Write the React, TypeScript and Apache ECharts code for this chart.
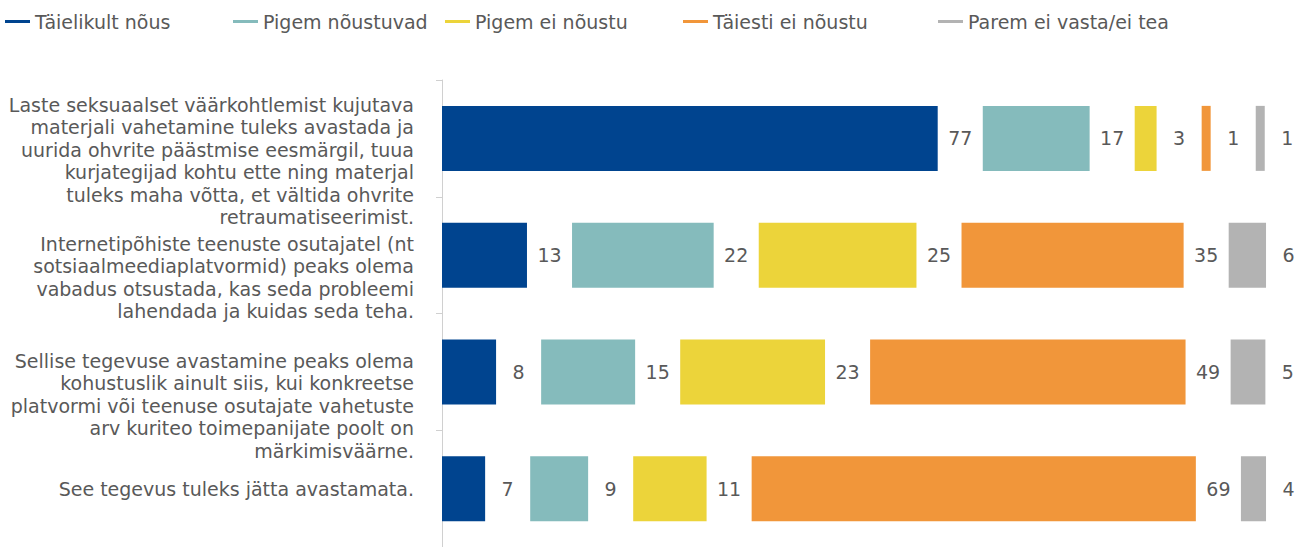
import React, { useEffect, useRef } from "react";
import * as echarts from "echarts";

const categories = [
  "Laste seksuaalset väärkohtlemist kujutava\nmaterjali vahetamine tuleks avastada ja\nuurida ohvrite päästmise eesmärgil, tuua\nkurjategijad kohtu ette ning materjal\ntuleks maha võtta, et vältida ohvrite\nretraumatiseerimist.",
  "Internetipõhiste teenuste osutajatel (nt\nsotsiaalmeediaplatvormid) peaks olema\nvabadus otsustada, kas seda probleemi\nlahendada ja kuidas seda teha.",
  "Sellise tegevuse avastamine peaks olema\nkohustuslik ainult siis, kui konkreetse\nplatvormi või teenuse osutajate vahetuste\narv kuriteo toimepanijate poolt on\nmärkimisväärne.",
  "See tegevus tuleks jätta avastamata.",
];

const seriesNames = [
  "Täielikult nõus",
  "Pigem nõustuvad",
  "Pigem ei nõustu",
  "Täiesti ei nõustu",
  "Parem ei vasta/ei tea",
];

// values (labels show them rounded)
const taielikultNous = [77, 13.2, 8.4, 6.7];
const pigemNoustuvad = [16.6, 22, 14.6, 9];
const pigemEiNoustu = [3.4, 24.5, 22.5, 11.4];
const taiestiEiNoustu = [1.4, 34.5, 49, 69];
const paremEiVasta = [1.4, 5.8, 5.4, 3.9];

const seriesValues = [taielikultNous, pigemNoustuvad, pigemEiNoustu, taiestiEiNoustu, paremEiVasta];

// styles (not data)
const colors = ["#00448F", "#85BBBC", "#ECD43A", "#F1963A", "#B3B3B3"];
const legendLefts = [0, 228, 440, 678, 933];
const labelBlankLines = [2, 2, 3, 0];
const GAP = 7;

const FONT = "DejaVu Sans";
const TEXT = "#595959";
const FS = 19;

export default function App() {
  const ref = useRef<HTMLDivElement>(null);
  useEffect(() => {
    if (!ref.current) return;
    const chart = echarts.init(ref.current, undefined, { renderer: "svg" });
    const series: any[] = [];
    seriesNames.forEach((name, k) => {
      series.push({
        name,
        type: "bar",
        stack: "total",
        barWidth: 65,
        clip: false,
        itemStyle: { color: colors[k] },
        data: seriesValues[k],
      });
      series.push({
        name: "gap" + k,
        type: "bar",
        stack: "total",
        barWidth: 65,
        clip: false,
        silent: true,
        itemStyle: { color: "rgba(0,0,0,0)" },
        label: {
          show: true,
          position: "inside",
          color: TEXT,
          fontFamily: FONT,
          fontSize: FS,
          formatter: (p: any) => String(Math.round(seriesValues[k][p.dataIndex])),
        },
        data: categories.map(() => GAP),
      });
    });
    chart.setOption({
      animation: false,
      legend: seriesNames.map((n, i) => ({
        data: [n],
        left: legendLefts[i],
        top: 7,
        icon: "rect",
        itemWidth: 25,
        itemHeight: 3,
        selectedMode: false,
        textStyle: { color: TEXT, fontFamily: FONT, fontSize: FS },
      })),
      grid: { left: 442, top: 80, right: 0, height: 472, containLabel: false },
      xAxis: {
        type: "value",
        min: 0,
        max: 132.5,
        show: false,
        splitLine: { show: false },
      },
      yAxis: {
        type: "category",
        inverse: true,
        data: categories,
        axisLine: { show: true, lineStyle: { color: "#D0D0D0", width: 1 } },
        axisTick: { show: true, length: 6, lineStyle: { color: "#D0D0D0" } },
        axisLabel: {
          interval: 0,
          margin: 28,
          color: TEXT,
          fontFamily: FONT,
          fontSize: FS,
          lineHeight: 22.5,
          align: "right",
          formatter: (v: string, i: number) => "\n".repeat(labelBlankLines[i] || 0) + v,
        },
      },
      series,
    });
    return () => chart.dispose();
  }, []);
  return (
    <div
      ref={ref}
      style={{ position: "fixed", left: 0, top: 0, width: 1295, height: 547, background: "#fff" }}
    />
  );
}
